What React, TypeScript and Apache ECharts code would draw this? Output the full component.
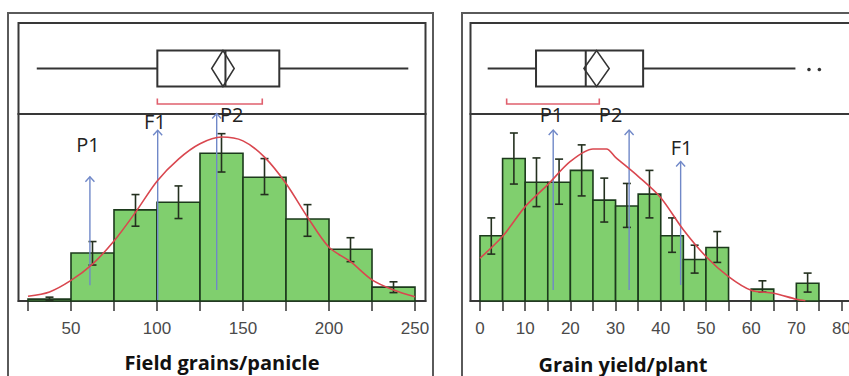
import React, { useEffect, useRef } from "react";
import * as echarts from "echarts";

// ---------- Left panel: Field grains/panicle ----------
const leftBinStarts = [25, 50, 75, 100, 125, 150, 175, 200, 225];
const leftBinWidth = 25;
const leftCounts = [0.4, 10, 19, 20.6, 30.8, 25.8, 17.1, 10.8, 2.9];
const leftErrLow = [0.1, 7.5, 15.6, 17.2, 26.9, 22.2, 13.5, 8.2, 1.75];
const leftErrHigh = [0.8, 12.4, 22.2, 24.0, 34.9, 29.7, 20.1, 13.2, 4.0];
const leftCurveX = [25, 37.5, 50, 62.5, 75, 87.5, 100, 112.5, 125, 137.5, 150, 162.5, 175, 187.5, 200, 212.5, 225, 237.5, 250];
const leftCurveY = [1.0, 1.9, 4.3, 7.7, 12.5, 18.5, 25.0, 29.6, 32.8, 34.2, 33.4, 30.0, 24.5, 17.5, 11.2, 8.2, 4.4, 2.3, 0.9];
const leftTickValues = [25, 50, 75, 100, 125, 150, 175, 200, 225, 250];
const leftLabelValues = [50, 100, 150, 200, 250];
const leftBox = [30.1, 100.2, 139.8, 171.1, 246.1]; // whisker lo, Q1, median, Q3, whisker hi
const leftMeanCI = [131.8, 144.9];
const leftShortest = [100.2, 161.2];
const leftOutliers: number[] = [];
const leftArrowX = [61, 100.4, 134.7];
const leftArrowFrom = [3.3, 0.2, 2.3];
const leftArrowTo = [25.9, 35.6, 39.1];
const leftMarkNames = ["P1", "F1", "P2"];
const leftMarkX = [59.9, 98.8, 143.4];
const leftMarkY = [32.7, 37.4, 39.0];
const leftTitle = "Field grains/panicle";

// ---------- Right panel: Grain yield/plant ----------
const rightBinStarts = [0, 5, 10, 15, 20, 25, 30, 35, 40, 45, 50, 60, 70];
const rightBinWidth = 5;
const rightCounts = [11, 24, 20, 20, 22, 17, 16, 18, 11, 7, 9, 2, 3];
const rightErrLow = [7.9, 19.7, 15.9, 16.3, 17.7, 13.3, 12.4, 14.0, 8.2, 4.7, 6.5, 1.5, 1.5];
const rightErrHigh = [14.0, 28.3, 24.1, 23.9, 26.3, 20.7, 19.8, 22.0, 14.0, 9.4, 11.7, 3.4, 4.7];
const rightCurveX = [0, 5, 10, 15, 20, 25, 28, 30, 35, 40, 45, 50, 55, 60, 65, 70, 72];
const rightCurveY = [7.2, 10.9, 15.9, 19.6, 23.5, 25.6, 25.6, 24.2, 21.0, 17.4, 12.0, 7.5, 4.1, 1.8, 1.3, 0.3, 0.05];
const rightTickValues = [0, 5, 10, 15, 20, 25, 30, 35, 40, 45, 50, 55, 60, 65, 70, 75, 80];
const rightLabelValues = [0, 10, 20, 30, 40, 50, 60, 70, 80];
const rightBox = [1.7, 12.4, 23.4, 36.1, 69.8];
const rightMeanCI = [23.0, 28.6];
const rightShortest = [5.9, 26.4];
const rightOutliers = [72.8, 75.1];
const rightArrowX = [16.2, 33.0, 44.4];
const rightArrowFrom = [1.85, 1.85, 2.7];
const rightArrowTo = [28.8, 28.8, 23.5];
const rightMarkNames = ["P1", "P2", "F1"];
const rightMarkX = [15.8, 28.9, 44.6];
const rightMarkY = [31.45, 31.45, 25.9];
const rightTitle = "Grain yield/plant";

// ---------- styles ----------
const BAR_FILL = "#80cf6e";
const BAR_EDGE = "#1c3a1c";
const ERR_COLOR = "#24301f";
const CURVE_COLOR = "#d9474f";
const ARROW_COLOR = "#7088c8";
const BRACKET_COLOR = "#e0606e";
const FRAME_DARK = "#383838";
const FRAME_OUTER = "#5a5a5a";

type Panel = {
  binStarts: number[]; binWidth: number; counts: number[]; errLow: number[]; errHigh: number[];
  curveX: number[]; curveY: number[]; ticks: number[]; labels: number[];
  box: number[]; meanCI: number[]; shortest: number[]; outliers: number[];
  arrowX: number[]; arrowFrom: number[]; arrowTo: number[];
  markNames: string[]; markX: number[]; markY: number[];
  xMin: number; xMax: number; yMax: number;
  left: number; width: number;
};

const panels: Panel[] = [
  {
    binStarts: leftBinStarts, binWidth: leftBinWidth, counts: leftCounts, errLow: leftErrLow, errHigh: leftErrHigh,
    curveX: leftCurveX, curveY: leftCurveY, ticks: leftTickValues, labels: leftLabelValues,
    box: leftBox, meanCI: leftMeanCI, shortest: leftShortest, outliers: leftOutliers,
    arrowX: leftArrowX, arrowFrom: leftArrowFrom, arrowTo: leftArrowTo,
    markNames: leftMarkNames, markX: leftMarkX, markY: leftMarkY,
    xMin: 19.48, xMax: 256.1, yMax: 39, left: 18.5, width: 407,
  },
  {
    binStarts: rightBinStarts, binWidth: rightBinWidth, counts: rightCounts, errLow: rightErrLow, errHigh: rightErrHigh,
    curveX: rightCurveX, curveY: rightCurveY, ticks: rightTickValues, labels: rightLabelValues,
    box: rightBox, meanCI: rightMeanCI, shortest: rightShortest, outliers: rightOutliers,
    arrowX: rightArrowX, arrowFrom: rightArrowFrom, arrowTo: rightArrowTo,
    markNames: rightMarkNames, markX: rightMarkX, markY: rightMarkY,
    xMin: -2.1, xMax: 84.2, yMax: 31.5, left: 470.5, width: 390,
  },
];

const BOX_TOP = 23;
const BOX_H = 91;
const HIST_TOP = 114;
const HIST_H = 187;

function buildOption() {
  const grid: any[] = [];
  const xAxis: any[] = [];
  const yAxis: any[] = [];
  const series: any[] = [];

  panels.forEach((p, pi) => {
    const gBox = pi * 2;
    const gHist = pi * 2 + 1;
    grid.push({ left: p.left, top: BOX_TOP, width: p.width, height: BOX_H, show: true, borderColor: FRAME_DARK, borderWidth: 2, containLabel: false, outerBoundsMode: "none" });
    grid.push({ left: p.left, top: HIST_TOP, width: p.width, height: HIST_H, show: true, borderColor: FRAME_DARK, borderWidth: 2, containLabel: false, outerBoundsMode: "none" });

    xAxis.push({ type: "value", gridIndex: gBox, min: p.xMin, max: p.xMax, show: false });
    xAxis.push({
      type: "value", gridIndex: gHist, min: p.xMin, max: p.xMax,
      axisLine: { show: true, onZero: false, lineStyle: { color: FRAME_DARK, width: 2 } },
      axisTick: { show: true, customValues: p.ticks, length: 10, lineStyle: { color: "#333", width: 1.5 } },
      axisLabel: { show: true, customValues: p.labels, margin: 19, color: "#4a4a4a", fontSize: 17, fontFamily: "Liberation Sans" },
      splitLine: { show: false },
    });
    yAxis.push({ type: "value", gridIndex: gBox, min: 0, max: 1, show: false });
    yAxis.push({ type: "value", gridIndex: gHist, min: 0, max: p.yMax, show: false });

    // Box plot
    series.push({
      type: "custom", xAxisIndex: gBox, yAxisIndex: gBox, silent: true,
      data: [[p.box[2], 0.5]],
      renderItem: (_params: any, api: any) => {
        const X = (v: number) => api.coord([v, 0.5])[0];
        const cy = api.coord([p.box[2], 0.5])[1];
        const h = 18;
        const lineStyle = { stroke: "#333", lineWidth: 2 };
        const midCI = (X(p.meanCI[0]) + X(p.meanCI[1])) / 2;
        const by = cy + 35.5;
        const children: any[] = [
          { type: "line", shape: { x1: X(p.box[0]), y1: cy, x2: X(p.box[1]), y2: cy }, style: lineStyle },
          { type: "line", shape: { x1: X(p.box[3]), y1: cy, x2: X(p.box[4]), y2: cy }, style: lineStyle },
          { type: "rect", shape: { x: X(p.box[1]), y: cy - h, width: X(p.box[3]) - X(p.box[1]), height: 2 * h }, style: { fill: "#fff", stroke: "#333", lineWidth: 2 } },
          { type: "line", shape: { x1: X(p.box[2]), y1: cy - h, x2: X(p.box[2]), y2: cy + h }, style: lineStyle },
          { type: "polygon", shape: { points: [[X(p.meanCI[0]), cy], [midCI, cy - h], [X(p.meanCI[1]), cy], [midCI, cy + h]] }, style: { fill: "none", stroke: "#333", lineWidth: 1.5 } },
          { type: "polyline", shape: { points: [[X(p.shortest[0]), by - 5.5], [X(p.shortest[0]), by], [X(p.shortest[1]), by], [X(p.shortest[1]), by - 5.5]] }, style: { fill: "none", stroke: BRACKET_COLOR, lineWidth: 1.6 } },
        ];
        p.outliers.forEach((o) => {
          children.push({ type: "circle", shape: { cx: X(o), cy: cy + 1, r: 1.8 }, style: { fill: "#333" } });
        });
        return { type: "group", children };
      },
    });

    // Histogram bars
    series.push({
      type: "custom", xAxisIndex: gHist, yAxisIndex: gHist, silent: true,
      encode: { x: [0, 1], y: 2 },
      data: p.binStarts.map((s, i) => [s, s + p.binWidth, p.counts[i]]),
      renderItem: (_params: any, api: any) => {
        const a = api.coord([api.value(0), api.value(2)]);
        const b = api.coord([api.value(1), 0]);
        return {
          type: "rect",
          shape: { x: a[0], y: a[1], width: b[0] - a[0], height: b[1] - a[1] },
          style: { fill: BAR_FILL, stroke: BAR_EDGE, lineWidth: 1.6 },
        };
      },
    });

    // Fitted curve
    series.push({
      type: "line", xAxisIndex: gHist, yAxisIndex: gHist, silent: true,
      data: p.curveX.map((x, i) => [x, p.curveY[i]]),
      smooth: 0.3, symbol: "none",
      lineStyle: { color: CURVE_COLOR, width: 1.6 },
    });

    // Error bars
    series.push({
      type: "custom", xAxisIndex: gHist, yAxisIndex: gHist, silent: true,
      encode: { x: 0, y: [1, 2] },
      data: p.binStarts.map((s, i) => [s + p.binWidth / 2, p.errLow[i], p.errHigh[i]]),
      renderItem: (_params: any, api: any) => {
        const lo = api.coord([api.value(0), api.value(1)]);
        const hi = api.coord([api.value(0), api.value(2)]);
        const w = 4;
        const st = { stroke: ERR_COLOR, lineWidth: 1.6 };
        return {
          type: "group",
          children: [
            { type: "line", shape: { x1: lo[0], y1: lo[1], x2: hi[0], y2: hi[1] }, style: st },
            { type: "line", shape: { x1: lo[0] - w, y1: lo[1], x2: lo[0] + w, y2: lo[1] }, style: st },
            { type: "line", shape: { x1: hi[0] - w, y1: hi[1], x2: hi[0] + w, y2: hi[1] }, style: st },
          ],
        };
      },
    });

    // Arrows
    series.push({
      type: "custom", xAxisIndex: gHist, yAxisIndex: gHist, silent: true, clip: false,
      encode: { x: 0, y: [1, 2] },
      data: p.arrowX.map((x, i) => [x, p.arrowFrom[i], p.arrowTo[i]]),
      renderItem: (_params: any, api: any) => {
        const a = api.coord([api.value(0), api.value(1)]);
        const b = api.coord([api.value(0), api.value(2)]);
        const st = { stroke: ARROW_COLOR, lineWidth: 1.4, fill: "none" };
        return {
          type: "group",
          children: [
            { type: "line", shape: { x1: a[0], y1: a[1], x2: b[0], y2: b[1] }, style: st },
            { type: "polyline", shape: { points: [[b[0] - 4.5, b[1] + 5], [b[0], b[1]], [b[0] + 4.5, b[1] + 5]] }, style: st },
          ],
        };
      },
    });

    // Marker labels
    series.push({
      type: "custom", xAxisIndex: gHist, yAxisIndex: gHist, silent: true, clip: false,
      data: p.markX.map((x, i) => [x, p.markY[i]]),
      renderItem: (params: any, api: any) => {
        const c = api.coord([api.value(0), api.value(1)]);
        return {
          type: "text",
          x: c[0], y: c[1],
          style: {
            text: p.markNames[params.dataIndex],
            fill: "#222", font: "20px 'Open Sans'",
            align: "center", verticalAlign: "middle",
          },
        };
      },
    });
  });

  const graphic: any[] = [
    { type: "rect", shape: { x: 8, y: 13, width: 425, height: 400 }, style: { fill: "none", stroke: FRAME_OUTER, lineWidth: 2 }, silent: true },
    { type: "rect", shape: { x: 462, y: 13, width: 420, height: 400 }, style: { fill: "none", stroke: FRAME_OUTER, lineWidth: 2 }, silent: true },
    { type: "text", x: 222, y: 362, style: { text: leftTitle, fill: "#111", font: "bold 20px 'Open Sans'", align: "center", verticalAlign: "middle" }, silent: true },
    { type: "text", x: 623, y: 364, style: { text: rightTitle, fill: "#111", font: "bold 20px 'Open Sans'", align: "center", verticalAlign: "middle" }, silent: true },
  ];

  return {
    animation: false,
    backgroundColor: "#ffffff",
    grid, xAxis, yAxis, series, graphic,
  };
}

export default function App() {
  const ref = useRef<HTMLDivElement>(null);
  useEffect(() => {
    if (!ref.current) return;
    const chart = echarts.init(ref.current, null, { renderer: "svg" });
    chart.setOption(buildOption() as any);
    return () => chart.dispose();
  }, []);
  return (
    <div
      ref={ref}
      style={{ position: "fixed", left: 0, top: 0, width: 849, height: 376, background: "#fff" }}
    />
  );
}
